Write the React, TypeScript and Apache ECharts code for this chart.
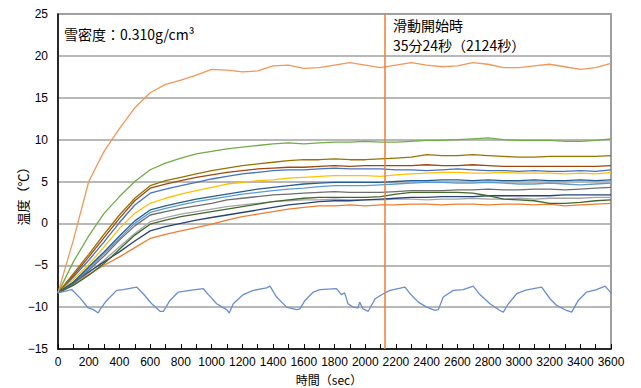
import React, { useEffect, useRef } from "react";
import * as echarts from "echarts";

// time axis (sec)
const T = [0, 100, 200, 300, 400, 500, 600, 700, 800, 900, 1000, 1100, 1200, 1300, 1400, 1500, 1600, 1700, 1800, 1900, 2000, 2100, 2200, 2300, 2400, 2500, 2600, 2700, 2800, 2900, 3000, 3100, 3200, 3300, 3400, 3500, 3600];

const sLightOrange = [-8.3, -2.0, 5.0, 8.6, 11.3, 13.8, 15.6, 16.6, 17.1, 17.7, 18.4, 18.3, 18.1, 18.2, 18.8, 18.9, 18.5, 18.6, 18.9, 19.2, 18.9, 18.6, 18.9, 19.2, 18.9, 18.7, 18.8, 19.2, 19.0, 18.6, 18.6, 18.8, 19.0, 18.7, 18.4, 18.6, 19.1];
const sGreen = [-8.3, -4.6, -1.5, 1.2, 3.2, 5.0, 6.4, 7.2, 7.8, 8.3, 8.6, 8.9, 9.1, 9.3, 9.5, 9.6, 9.5, 9.6, 9.7, 9.7, 9.8, 9.7, 9.7, 9.8, 9.9, 9.9, 10.0, 10.1, 10.2, 10.0, 9.9, 9.9, 9.9, 9.8, 9.8, 9.9, 10.1];
const sDarkGold = [-8.3, -6.0, -3.7, -1.3, 1.0, 3.0, 4.5, 5.1, 5.5, 5.9, 6.3, 6.6, 6.9, 7.1, 7.3, 7.5, 7.6, 7.6, 7.7, 7.6, 7.6, 7.7, 7.8, 7.9, 8.2, 8.1, 8.1, 8.2, 8.1, 8.0, 7.9, 7.9, 8.0, 8.0, 8.0, 8.0, 8.1];
const sBrown = [-8.3, -6.2, -4.0, -1.7, 0.6, 2.7, 4.2, 4.7, 5.1, 5.5, 5.8, 6.1, 6.3, 6.5, 6.6, 6.7, 6.7, 6.8, 6.9, 6.8, 6.9, 6.9, 6.9, 6.9, 7.0, 6.9, 6.9, 7.0, 6.9, 6.8, 6.8, 6.8, 6.8, 6.8, 6.8, 6.8, 6.9];
const sBlue = [-8.3, -6.4, -4.4, -2.2, 0.1, 2.2, 3.6, 4.1, 4.5, 4.9, 5.3, 5.6, 5.9, 6.1, 6.3, 6.4, 6.4, 6.5, 6.6, 6.5, 6.5, 6.5, 6.4, 6.4, 6.3, 6.4, 6.5, 6.4, 6.3, 6.3, 6.2, 6.3, 6.2, 6.2, 6.3, 6.2, 6.4];
const sYellow = [-8.3, -6.7, -4.9, -2.8, -0.6, 1.2, 2.4, 3.0, 3.5, 3.9, 4.3, 4.7, 4.9, 5.1, 5.2, 5.4, 5.5, 5.6, 5.7, 5.7, 5.7, 5.6, 5.8, 5.9, 6.0, 6.1, 6.1, 6.0, 6.0, 6.1, 6.0, 6.0, 6.0, 5.9, 6.0, 5.9, 6.1];
const sDarkBlue = [-8.3, -7.0, -5.2, -3.4, -1.5, 0.3, 1.6, 2.1, 2.5, 2.9, 3.2, 3.5, 3.8, 4.1, 4.3, 4.5, 4.7, 4.8, 4.9, 4.9, 4.9, 4.9, 5.0, 5.1, 5.1, 5.2, 5.2, 5.1, 5.2, 5.1, 5.1, 5.2, 5.1, 5.1, 5.2, 5.1, 5.2];
const sLightBlue = [-8.3, -7.1, -5.4, -3.6, -1.8, 0.0, 1.3, 1.8, 2.2, 2.6, 2.9, 3.2, 3.5, 3.7, 3.9, 4.1, 4.2, 4.4, 4.5, 4.5, 4.5, 4.6, 4.7, 4.8, 4.9, 4.9, 4.8, 4.8, 4.9, 4.8, 4.7, 4.7, 4.8, 4.7, 4.6, 4.7, 4.8];
const sDarkGray = [-8.3, -7.2, -5.6, -3.9, -2.0, -0.3, 1.0, 1.4, 1.8, 2.1, 2.4, 2.8, 3.0, 3.2, 3.4, 3.5, 3.6, 3.7, 3.8, 3.7, 3.7, 3.7, 3.8, 3.9, 3.9, 3.9, 4.0, 4.0, 4.1, 4.0, 4.0, 4.1, 4.1, 4.0, 4.1, 4.2, 4.3];
const sGray = [-8.3, -7.3, -5.9, -4.4, -2.8, -1.2, 0.2, 0.7, 1.1, 1.4, 1.7, 2.0, 2.2, 2.4, 2.6, 2.7, 2.8, 2.8, 2.9, 2.8, 2.8, 2.8, 2.9, 2.9, 2.8, 2.9, 2.9, 3.0, 2.9, 2.9, 3.0, 2.9, 3.0, 3.0, 3.0, 3.1, 3.1];
const sDarkGreen = [-8.3, -7.4, -6.2, -4.8, -3.1, -1.4, -0.1, 0.4, 0.8, 1.1, 1.4, 1.7, 2.0, 2.3, 2.6, 2.8, 3.0, 3.1, 3.1, 3.1, 3.1, 3.2, 3.5, 3.7, 3.7, 3.7, 3.7, 3.6, 3.3, 2.9, 2.8, 2.7, 2.4, 2.4, 2.5, 2.7, 2.8];
const sNavy = [-8.3, -7.1, -5.8, -4.6, -3.4, -2.1, -0.9, -0.4, 0.0, 0.4, 0.7, 1.0, 1.3, 1.6, 1.9, 2.2, 2.4, 2.6, 2.7, 2.7, 2.8, 2.9, 3.0, 3.1, 3.1, 3.2, 3.2, 3.2, 3.3, 3.3, 3.3, 3.3, 3.3, 3.4, 3.4, 3.4, 3.4];
const sOrange = [-8.3, -7.2, -6.1, -5.0, -4.0, -2.9, -1.8, -1.3, -0.9, -0.5, -0.1, 0.4, 0.8, 1.1, 1.4, 1.7, 1.9, 2.1, 2.1, 2.2, 2.1, 2.2, 2.2, 2.3, 2.3, 2.2, 2.3, 2.3, 2.2, 2.3, 2.3, 2.2, 2.3, 2.1, 2.2, 2.3, 2.4];

// oscillating series (irregular time sampling)
const oscT = [0, 89, 143, 197, 230, 262, 273, 317, 382, 425, 512, 555, 610, 664, 686, 729, 783, 859, 946, 979, 1033, 1098, 1115, 1141, 1206, 1271, 1358, 1380, 1423, 1488, 1553, 1575, 1608, 1662, 1705, 1813, 1845, 1866, 1888, 1920, 1953, 1964, 1985, 2020, 2064, 2118, 2161, 2259, 2292, 2346, 2400, 2454, 2476, 2508, 2573, 2638, 2703, 2747, 2812, 2877, 2899, 2932, 2986, 3040, 3095, 3149, 3203, 3246, 3311, 3344, 3387, 3441, 3506, 3561, 3600];
const oscV = [-8.3, -7.9, -8.9, -10.1, -10.3, -10.7, -10.3, -9.2, -8.0, -7.9, -7.6, -8.4, -9.6, -10.5, -10.5, -9.2, -8.2, -8.0, -7.8, -8.5, -9.6, -10.3, -10.7, -9.6, -8.5, -8.0, -7.7, -7.5, -8.8, -10.0, -10.3, -10.2, -9.2, -8.2, -7.9, -7.8, -8.5, -8.3, -9.6, -10.0, -10.1, -9.4, -10.2, -10.5, -9.0, -8.4, -8.0, -7.6, -8.4, -9.4, -10.0, -10.4, -10.3, -8.8, -8.0, -7.9, -7.5, -8.5, -9.6, -10.4, -10.6, -9.6, -8.4, -8.0, -7.8, -7.6, -9.0, -9.8, -10.4, -10.6, -9.2, -8.2, -7.9, -7.5, -8.3];

const slideStart = 2124;

const lineDefs = [
  { name: "s1", color: "#4472C4", values: sBlue },
  { name: "s2", color: "#ED7D31", values: sOrange },
  { name: "s3", color: "#A5A5A5", values: sGray },
  { name: "s4", color: "#FFC000", values: sYellow },
  { name: "s5", color: "#5B9BD5", values: sLightBlue },
  { name: "s6", color: "#70AD47", values: sGreen },
  { name: "s7", color: "#264478", values: sNavy },
  { name: "s8", color: "#9E480E", values: sBrown },
  { name: "s9", color: "#6E6E6E", values: sDarkGray },
  { name: "s10", color: "#997300", values: sDarkGold },
  { name: "s11", color: "#255E91", values: sDarkBlue },
  { name: "s12", color: "#43682B", values: sDarkGreen },
  { name: "s14", color: "#F1975A", values: sLightOrange },
];

const NUM_FONT = "'Liberation Sans', 'Noto Sans CJK JP', sans-serif";
const JP_FONT = "'Noto Sans CJK JP', sans-serif";

export default function App() {
  const ref = useRef<HTMLDivElement>(null);
  useEffect(() => {
    if (!ref.current) return;
    const chart = echarts.init(ref.current, undefined, { renderer: "svg" });
    const series: any[] = lineDefs.map((d) => ({
      name: d.name,
      type: "line",
      showSymbol: false,
      symbol: "none",
      data: T.map((t, i) => [t, d.values[i]]),
      lineStyle: { color: d.color, width: 1.3 },
      itemStyle: { color: d.color },
    }));
    series.push({
      name: "s13",
      type: "line",
      showSymbol: false,
      symbol: "none",
      data: oscT.map((t, i) => [t, oscV[i]]),
      lineStyle: { color: "#698ED0", width: 1.3 },
      itemStyle: { color: "#698ED0" },
    });
    series.push({
      name: "slide",
      type: "line",
      data: [],
      markLine: {
        silent: true,
        symbol: "none",
        label: { show: false },
        lineStyle: { color: "#ED7D31", width: 1.5, type: "solid" },
        data: [{ xAxis: slideStart }],
      },
    });
    chart.setOption({
      animation: false,
      textStyle: { fontFamily: NUM_FONT },
      grid: {
        left: 58,
        top: 14,
        right: 30,
        bottom: 39,
        show: true,
        borderColor: "#808080",
        borderWidth: 1.5,
      },
      xAxis: {
        type: "value",
        min: 0,
        max: 3600,
        interval: 200,
        axisLine: { show: true, onZero: false, lineStyle: { color: "#000", width: 1.5 } },
        axisTick: { show: true, inside: true, length: 5, lineStyle: { color: "#000" } },
        minorTick: { show: true, splitNumber: 2, length: 5, lineStyle: { color: "#000" } },
        axisLabel: {
          color: "#000",
          fontSize: 12,
          margin: 7,
          fontFamily: NUM_FONT,
          showMaxLabel: true,
          showMinLabel: true,
          hideOverlap: false,
          formatter: (v: number) => String(v),
        },
        splitLine: { show: false },
      },
      yAxis: {
        type: "value",
        min: -15,
        max: 25,
        interval: 5,
        axisLine: { show: true, onZero: false, lineStyle: { color: "#000", width: 1.5 } },
        axisTick: { show: false },
        axisLabel: {
          color: "#000",
          fontSize: 12,
          margin: 10,
          fontFamily: NUM_FONT,
          formatter: (v: number) => String(v).replace("-", "\u2212"),
        },
        splitLine: { show: true, lineStyle: { color: "#a0a0a0", width: 1.5 } },
      },
      series,
      graphic: [
        {
          type: "text",
          x: 64,
          y: 34,
          style: {
            text: "雪密度：0.310g/cm³",
            fill: "#000",
            font: `14px ${JP_FONT}`,
            textAlign: "left",
            textVerticalAlign: "middle",
            align: "left",
            verticalAlign: "middle",
          },
        },
        {
          type: "text",
          x: 393,
          y: 25,
          style: {
            text: "滑動開始時",
            fill: "#000",
            font: `14px ${JP_FONT}`,
            textAlign: "left",
            textVerticalAlign: "middle",
            align: "left",
            verticalAlign: "middle",
          },
        },
        {
          type: "text",
          x: 393,
          y: 45,
          style: {
            text: "35分24秒（2124秒）",
            fill: "#000",
            font: `14px ${JP_FONT}`,
            textAlign: "left",
            textVerticalAlign: "middle",
            align: "left",
            verticalAlign: "middle",
          },
        },
        {
          type: "text",
          x: 22,
          y: 193,
          rotation: Math.PI / 2,
          style: {
            text: "温度（℃）",
            fill: "#000",
            font: `13px ${JP_FONT}`,
            textAlign: "center",
            textVerticalAlign: "middle",
            align: "center",
            verticalAlign: "middle",
          },
        },
        {
          type: "text",
          x: 329,
          y: 379,
          style: {
            text: "時間（sec）",
            fill: "#000",
            font: `12px ${JP_FONT}`,
            textAlign: "center",
            textVerticalAlign: "middle",
            align: "center",
            verticalAlign: "middle",
          },
        },
      ],
    });
    return () => chart.dispose();
  }, []);
  return (
    <div
      ref={ref}
      style={{ position: "fixed", left: 0, top: 0, width: 641, height: 388, background: "#fff" }}
    />
  );
}
